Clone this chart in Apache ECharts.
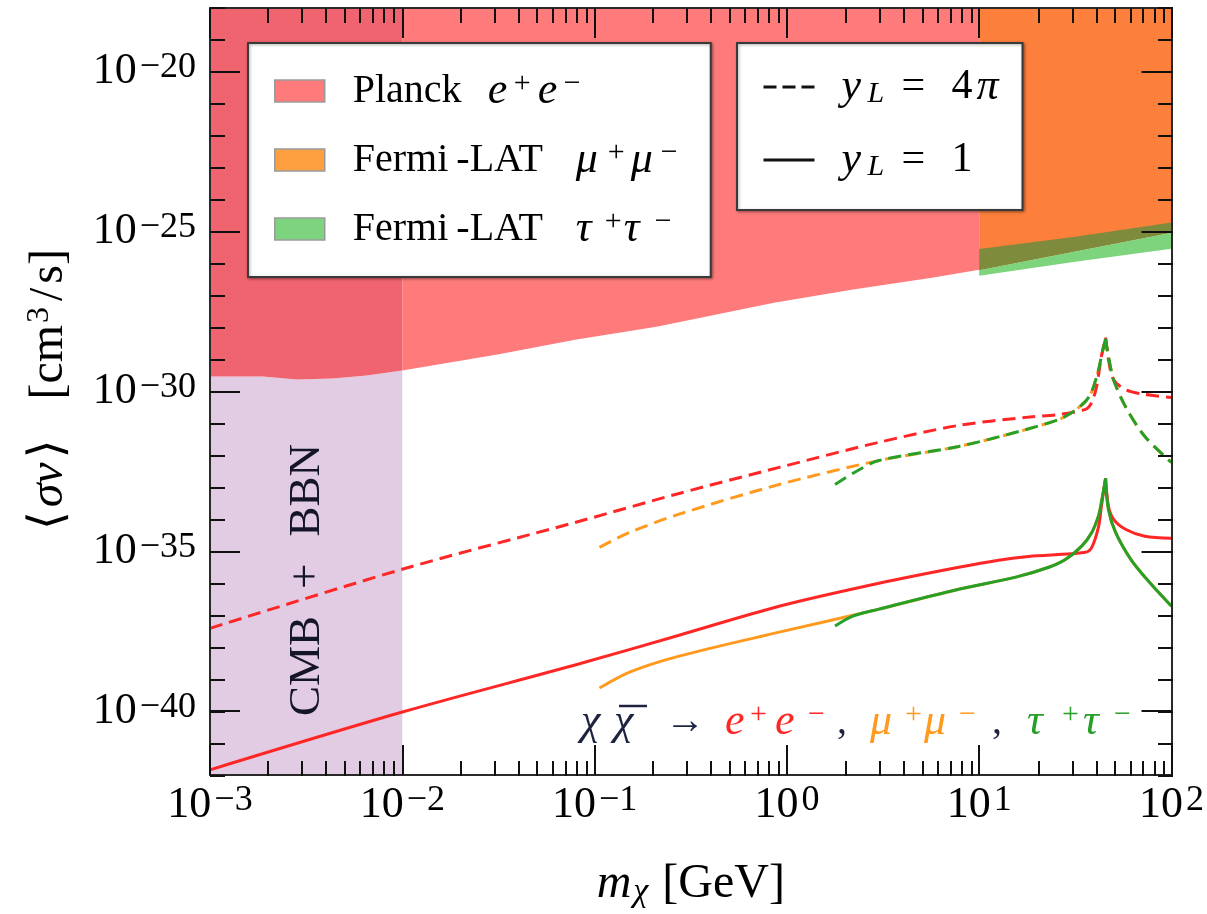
<!DOCTYPE html>
<html><head><meta charset="utf-8">
<script src="https://cdn.jsdelivr.net/npm/echarts@6/dist/echarts.min.js"></script>
<style>html,body{margin:0;padding:0;background:#fff}#c{width:1207px;height:914px}</style>
</head><body><div id="c"></div>
<script>
// ---------- axis ranges / ticks (decades) ----------
const xExpRange = [-3, 2];
const yExpRange = [-42, -18];
const xLabelExps = [-3, -2, -1, 0, 1, 2];
const yLabelExps = [-40, -35, -30, -25, -20];

// ---------- exclusion regions ----------
// Planck e+e- lower boundary (m in GeV, <sigma v> in cm^3/s)
const planckMass  = [1e-3, 1.88e-3, 2.83e-3, 4.35e-3, 6.53e-3, 1e-2, 3.13e-2, 8.05e-2, 0.21, 0.857, 2.21, 5.68, 10];
const planckSigma = [2.95e-30, 2.95e-30, 2.37e-30, 2.57e-30, 3.16e-30, 4.57e-30, 1.45e-29, 4.22e-29, 1.07e-28, 6.03e-28, 1.55e-27, 3.63e-27, 6.46e-27];
const cmbBbnMassMax = 1e-2;
// Fermi-LAT bounds
const fermiMass      = [10, 31.6, 100];
const fermiMuSigma   = [6.17e-27, 2.4e-26, 9.33e-26];
const fermiTauUpper  = [2.88e-26, 7.0e-26, 1.95e-25];
const fermiTauLower  = [4.2e-27, 1.15e-26, 2.95e-26];

// ---------- annihilation cross-section curves ----------
// e+e-, y_L = 4 pi (dashed)
const eeDashMass  = [1e-3, 1e-2, 0.0834, 0.275, 0.912, 3.01, 7.83, 17.5, 25.9, 35.7, 38.5, 40.8, 43.2, 45.4, 47.0, 50.0, 57.6, 72.7, 100];
const eeDashSigma = [3.89e-38, 2.75e-36, 8.71e-35, 6.46e-34, 4.22e-33, 2.57e-32, 8.71e-32, 1.55e-31, 1.91e-31, 2.75e-31, 4.57e-31, 1.45e-30, 1.26e-29, 4.9e-29, 1.0e-29, 2.34e-30, 1.15e-30, 8.13e-31, 6.46e-31];
// e+e-, y_L = 1 (solid)
const eeSolidMass  = [1e-3, 1e-2, 0.0834, 0.275, 0.912, 3.01, 7.83, 12.6, 18.1, 35.7, 38.5, 41.8, 43.2, 45.4, 47.0, 50.0, 57.6, 72.7, 100];
const eeSolidSigma = [1.45e-42, 9.33e-41, 3.02e-39, 2.37e-38, 1.91e-37, 1.0e-36, 3.16e-36, 5.25e-36, 6.92e-36, 9.33e-36, 1.33e-35, 6.03e-35, 2.57e-34, 1.91e-33, 2.57e-34, 1.0e-34, 4.9e-35, 2.95e-35, 2.57e-35];
// tau+tau-, y_L = 4 pi (dashed)
const tauDashMass  = [1.78, 2.2, 3.01, 7.83, 16.1, 25.9, 30.3, 35.7, 38.5, 41.8, 43.2, 45.4, 47.0, 50.0, 57.6, 72.7, 100];
const tauDashSigma = [1.23e-33, 2.75e-33, 6.92e-33, 1.91e-32, 5.62e-32, 1.33e-31, 2.19e-31, 4.9e-31, 1.0e-30, 4.9e-30, 1.26e-29, 4.57e-29, 1.26e-29, 2.34e-30, 3.39e-31, 3.89e-32, 6.03e-33];
// tau+tau-, y_L = 1 (solid)
const tauSolidMass  = [1.78, 2.2, 3.01, 7.83, 15.5, 23.0, 28.2, 34.1, 38.5, 41.8, 43.2, 45.4, 47.0, 51.2, 61.4, 76.0, 100];
const tauSolidSigma = [4.57e-38, 9.33e-38, 1.55e-37, 6.46e-37, 1.55e-36, 3.16e-36, 5.62e-36, 1.45e-35, 3.89e-35, 1.33e-34, 3.39e-34, 1.91e-33, 2.04e-34, 3.89e-35, 5.62e-36, 1.15e-36, 1.91e-37];
// mu+mu- (joins the tau curves above ~3 GeV)
const muDashHeadMass  = [0.106, 0.152, 0.275, 0.912];
const muDashHeadSigma = [1.33e-35, 3.89e-35, 1.45e-34, 1.23e-33];
const muSolidHeadMass  = [0.106, 0.152, 0.275, 0.912];
const muSolidHeadSigma = [5.25e-40, 1.66e-39, 5.25e-39, 2.95e-38];

// ---------- helpers ----------
const lg = Math.log10;
const pairs = (ms, ss) => ms.map((m, i) => [lg(m), lg(ss[i])]);
const FONT = "'Liberation Serif', 'DejaVu Serif', serif";
const C_RED = '#ff2626', C_ORANGE = '#ff9a1e', C_GREEN = '#27a027', C_INK = '#1d2340';

function region(name, lower, upper, color, z) {
  const poly = lower.concat(upper.slice().reverse());
  return {
    type: 'custom', name, silent: true, z, animation: false,
    itemStyle: { color }, data: poly, clip: true,
    renderItem(params, api) {
      if (params.dataIndex !== 0) return null;
      return { type: 'polygon', shape: { points: poly.map(p => api.coord(p)) }, style: { fill: color } };
    }
  };
}
// a curve is drawn as two smoothed pieces that meet at the resonance peak (keeps the cusp sharp)
function curve(name, pts, color, dashed, z) {
  let ip = 0;
  pts.forEach((p, i) => { if (p[1] > pts[ip][1]) ip = i; });
  const pieces = ip > 0 && ip < pts.length - 1 ? [pts.slice(0, ip + 1), pts.slice(ip)] : [pts];
  return pieces.map((d, k) => ({
    type: 'line', name: name + (k ? ' (above peak)' : ''), data: d, symbol: 'none', showSymbol: false,
    silent: true, z, animation: false, clip: true, smooth: 0.3,
    lineStyle: { color, width: 3, type: dashed ? [13, 7] : 'solid', cap: 'butt' }
  }));
}
// build rich text out of fixed-width tokens: [text, baseStyle, width, extra]
function richTokens(prefix, tokens, bases) {
  const rich = {};
  const parts = tokens.map((t, i) => {
    const key = prefix + i;
    rich[key] = Object.assign({}, bases[t[1]], t[2] != null ? { width: t[2] } : {}, t[3] || {});
    return '{' + key + '|' + t[0] + '}';
  });
  return { text: parts.join(''), rich };
}

const nPlanckLow = planckMass.filter(m => m <= cmbBbnMassMax).length;
const planckLow = pairs(planckMass.slice(0, nPlanckLow), planckSigma.slice(0, nPlanckLow));
const planckHigh = pairs(planckMass.slice(nPlanckLow - 1), planckSigma.slice(nPlanckLow - 1));
const topLine = (pts) => pts.map(p => [p[0], yExpRange[1]]);
const botLine = (pts) => pts.map(p => [p[0], yExpRange[0]]);
const muB = pairs(fermiMass, fermiMuSigma);
const tauU = pairs(fermiMass, fermiTauUpper);
const tauL = pairs(fermiMass, fermiTauLower);

const tauDash = pairs(tauDashMass, tauDashSigma);
const tauSolid = pairs(tauSolidMass, tauSolidSigma);
const muDash = pairs(muDashHeadMass, muDashHeadSigma).concat(tauDash.slice(2));
const muSolid = pairs(muSolidHeadMass, muSolidHeadSigma).concat(tauSolid.slice(2));

const sup = v => (v < 0 ? '\u2212' : '') + Math.abs(v);
const tickRich = {
  b: { fontFamily: FONT, fontSize: 44, lineHeight: 44, color: '#000' },
  s: { fontFamily: FONT, fontSize: 36, lineHeight: 12, verticalAlign: 'top', color: '#000', padding: [0, 0, 0, 3] }
};
const tickFmt = v => '{b|10}{s|' + sup(Math.round(v)) + '}';

const majorX = xLabelExps;
const minorX = [];
for (let e = xExpRange[0]; e < xExpRange[1]; e++) for (let k = 2; k <= 9; k++) minorX.push(e + lg(k));
const minorY = [];
for (let e = yExpRange[0]; e <= yExpRange[1]; e++) minorY.push(e);

const axisLineStyle = { color: '#2a2a2a', width: 2 };
const tickStyle = { color: '#111', width: 2 };
function xAx(grid, pos, values, len, withLabels) {
  return {
    type: 'value', gridIndex: grid, position: pos, min: xExpRange[0], max: xExpRange[1], interval: 1, z: 10,
    axisLine: { show: grid === 0, onZero: false, lineStyle: axisLineStyle },
    axisTick: { show: true, inside: true, length: len, customValues: values, lineStyle: tickStyle },
    axisLabel: withLabels ? { show: true, margin: 8, customValues: xLabelExps, formatter: tickFmt, rich: tickRich } : { show: false },
    splitLine: { show: false }
  };
}
function yAx(grid, pos, values, len, withLabels) {
  return {
    type: 'value', gridIndex: grid, position: pos, min: yExpRange[0], max: yExpRange[1], interval: 1, z: 10,
    axisLine: { show: grid === 0, onZero: false, lineStyle: axisLineStyle },
    axisTick: { show: true, inside: true, length: len, customValues: values, lineStyle: tickStyle },
    axisLabel: withLabels ? { show: true, margin: 14, customValues: yLabelExps, formatter: tickFmt, rich: tickRich } : { show: false },
    splitLine: { show: false }
  };
}

const titleRich = {
  i: { fontFamily: FONT, fontStyle: 'italic', fontSize: 48, lineHeight: 50, color: '#000' },
  r: { fontFamily: FONT, fontSize: 48, lineHeight: 50, color: '#000' },
  g: { fontFamily: FONT, fontSize: 48, lineHeight: 50, color: '#000', padding: [0, 4, 0, 4] },
  sp: { fontFamily: FONT, fontSize: 48, lineHeight: 50, color: '#000', padding: [0, 4, 0, 4] },
  sub: { fontFamily: FONT, fontStyle: 'italic', fontSize: 34, lineHeight: 30, verticalAlign: 'bottom', color: '#000', padding: [0, 14, 0, 2] },
  s: { fontFamily: FONT, fontSize: 32, lineHeight: 16, verticalAlign: 'top', color: '#000', padding: [0, 2, 0, 2] }
};

const xA = [xAx(0, 'bottom', majorX, 30, true), xAx(0, 'top', majorX, 30, false),
            xAx(1, 'bottom', minorX, 15, false), xAx(1, 'top', minorX, 15, false)];
Object.assign(xA[0], {
  name: '{i|m}{sub|\u03c7}{r|[GeV]}', nameLocation: 'middle', nameGap: 84,
  nameTextStyle: { rich: titleRich }
});
const yA = [yAx(0, 'left', yLabelExps, 30, true), yAx(0, 'right', yLabelExps, 30, false),
            yAx(1, 'left', minorY, 15, false), yAx(1, 'right', minorY, 15, false)];
Object.assign(yA[0], {
  name: '{g|\u27e8}{i|\u03c3v}{g|\u27e9}{r|   [cm}{s|3}{sp|/}{r|s]}', nameLocation: 'middle', nameRotate: 90, nameGap: 136,
  nameTextStyle: { rich: titleRich }
});

// ---------- legends ----------
const LB = {
  t: { fontFamily: FONT, fontSize: 40, lineHeight: 44, color: '#000' },
  m: { fontFamily: FONT, fontStyle: 'italic', fontSize: 44, lineHeight: 44, color: '#000' },
  s: { fontFamily: FONT, fontSize: 30, lineHeight: 22, verticalAlign: 'top', color: '#000' },
  sb: { fontFamily: FONT, fontStyle: 'italic', fontSize: 30, lineHeight: 28, verticalAlign: 'bottom', color: '#000' },
  e: { fontFamily: FONT, fontSize: 42, lineHeight: 44, color: '#000' }
};
const lead = { padding: [0, 0, 0, 23] };
const legendDefs = {
  'Planck e+e-': [['Planck', 't', 135, lead], ['e', 'm', 26], ['+', 's', 24], ['e', 'm', 26], ['\u2212', 's', 20]],
  'Fermi-LAT mu+mu-': [['Fermi\u2009-LAT', 't', 223, lead], ['\u03bc', 'm', 32], ['+', 's', 23], ['\u03bc', 'm', 30], ['\u2212', 's', 20]],
  'Fermi-LAT tau+tau-': [['Fermi\u2009-LAT', 't', 223, lead], ['\u03c4', 'm', 29], ['+', 's', 19], ['\u03c4', 'm', 31], ['\u2212', 's', 20]],
  'yL4pi': [['y', 'm', 26, { padding: [0, 0, 0, 22] }], ['L', 'sb', 34], ['=', 'e', 50], ['4', 'e', 25], ['\u03c0', 'm', 25]],
  'yL1': [['y', 'm', 26, { padding: [0, 0, 0, 22] }], ['L', 'sb', 34], ['=', 'e', 50], ['1', 'e', 25], ['', 'e', 25]]
};
const legendRich = {};
const legendText = {};
Object.keys(legendDefs).forEach((k, idx) => {
  const r = richTokens('L' + idx + '_', legendDefs[k], LB);
  Object.assign(legendRich, r.rich);
  legendText[k] = r.text;
});

// ---------- process annotation ----------
const AB = {
  k: { fontFamily: FONT, fontStyle: 'italic', fontSize: 44, lineHeight: 44, fill: C_INK },
  a: { fontFamily: FONT, fontSize: 40, lineHeight: 44, fill: C_INK },
  r: { fontFamily: FONT, fontStyle: 'italic', fontSize: 44, lineHeight: 44, fill: C_RED },
  rs: { fontFamily: FONT, fontSize: 30, lineHeight: 14, verticalAlign: 'top', fill: C_RED },
  o: { fontFamily: FONT, fontStyle: 'italic', fontSize: 44, lineHeight: 44, fill: C_ORANGE },
  os: { fontFamily: FONT, fontSize: 30, lineHeight: 14, verticalAlign: 'top', fill: C_ORANGE },
  g: { fontFamily: FONT, fontStyle: 'italic', fontSize: 44, lineHeight: 44, fill: C_GREEN },
  gs: { fontFamily: FONT, fontSize: 30, lineHeight: 14, verticalAlign: 'top', fill: C_GREEN }
};
const processTokens = [
  ['\u03c7', 'k', 33], ['\u03c7', 'k', 51], ['\u2192', 'a', 60],
  ['e', 'r', 25], ['+', 'rs', 25], ['e', 'r', 33], ['\u2212', 'rs', 29], [',', 'a', 33],
  ['\u03bc', 'o', 35], ['+', 'os', 19], ['\u03bc', 'o', 35], ['\u2212', 'os', 33], [',', 'a', 35],
  ['\u03c4', 'g', 35], ['+', 'gs', 21], ['\u03c4', 'g', 31], ['\u2212', 'gs', 16]
];
const processRich = richTokens('P', processTokens, AB);

const cmbRich = {
  w: { fontFamily: FONT, fontSize: 45, lineHeight: 46, fill: '#15152a' },
  p: { fontFamily: FONT, fontSize: 45, lineHeight: 46, fill: '#15152a', padding: [0, 27, 0, 27] }
};

const series = [
  region('CMB + BBN', botLine(planckLow), planckLow, '#e2cce3', 1),
  region('Planck dark', planckLow, topLine(planckLow), '#f0646f', 1),
  region('Planck e+e-', planckHigh, topLine(planckHigh), '#ff7b7b', 1),
  region('Fermi-LAT mu+mu-', muB, topLine(muB), '#fd7f3c', 2),
  region('Fermi overlap', muB, tauU, '#7e8a3c', 3),
  region('Fermi-LAT tau+tau-', tauL, muB, '#7dd47d', 3),
  ...curve('mu dashed', muDash, C_ORANGE, true, 5),
  ...curve('mu solid', muSolid, C_ORANGE, false, 5),
  ...curve('ee dashed', pairs(eeDashMass, eeDashSigma), C_RED, true, 6),
  ...curve('ee solid', pairs(eeSolidMass, eeSolidSigma), C_RED, false, 6),
  ...curve('tau dashed', tauDash, C_GREEN, true, 7),
  ...curve('tau solid', tauSolid, C_GREEN, false, 7),
  { type: 'line', name: 'yL4pi', data: [], symbol: 'none', lineStyle: { color: '#111', width: 3, type: [13, 6] } },
  { type: 'line', name: 'yL1', data: [], symbol: 'none', lineStyle: { color: '#111', width: 3, type: 'solid' } }
];

const legendBox = {
  orient: 'vertical', backgroundColor: '#fff', borderColor: '#3a3a3a', borderWidth: 2,
  shadowColor: 'rgba(0,0,0,0.35)', shadowBlur: 3, shadowOffsetX: 1, shadowOffsetY: 1,
  selectedMode: false, z: 20, formatter: n => legendText[n], textStyle: { rich: legendRich }
};

const chart = echarts.init(document.getElementById('c'), null, { renderer: 'canvas' });
chart.setOption({
  animation: false,
  backgroundColor: '#fff',
  grid: [
    { left: 210, right: 34, top: 8, bottom: 138, containLabel: false },
    { left: 210, right: 34, top: 8, bottom: 138, containLabel: false }
  ],
  xAxis: xA,
  yAxis: yA,
  legend: [
    Object.assign({}, legendBox, {
      left: 248, top: 43, padding: [26, 30, 26, 26], itemGap: 25, itemWidth: 50, itemHeight: 22,
      data: [
        { name: 'Planck e+e-', icon: 'rect', itemStyle: { color: '#ff7b7b', borderColor: '#9a9a9a', borderWidth: 1.5 } },
        { name: 'Fermi-LAT mu+mu-', icon: 'rect', itemStyle: { color: '#ffa040', borderColor: '#9a9a9a', borderWidth: 1.5 } },
        { name: 'Fermi-LAT tau+tau-', icon: 'rect', itemStyle: { color: '#7ed47e', borderColor: '#9a9a9a', borderWidth: 1.5 } }
      ]
    }),
    Object.assign({}, legendBox, {
      left: 737, top: 43, padding: [22, 21, 28, 25], itemGap: 29, itemWidth: 51, itemHeight: 14,
      data: [
        { name: 'yL4pi', itemStyle: { opacity: 0 }, lineStyle: { color: '#111', width: 3, type: [13, 6] } },
        { name: 'yL1', itemStyle: { opacity: 0 }, lineStyle: { color: '#111', width: 3, type: 'solid' } }
      ]
    })
  ],
  graphic: [
    {
      type: 'text', x: 307, y: 580, rotation: Math.PI / 2, z: 30,
      style: { text: '{w|CMB}{p|+}{w|BBN}', rich: cmbRich, align: 'center', verticalAlign: 'middle' }
    },
    {
      type: 'text', x: 581, y: 722, z: 30,
      style: { text: processRich.text, rich: processRich.rich, align: 'left', verticalAlign: 'middle' }
    },
    {
      type: 'line', z: 30, shape: { x1: 619, y1: 706, x2: 647, y2: 706 },
      style: { stroke: C_INK, lineWidth: 2.5 }
    }
  ],
  series
});
</script></body></html>
